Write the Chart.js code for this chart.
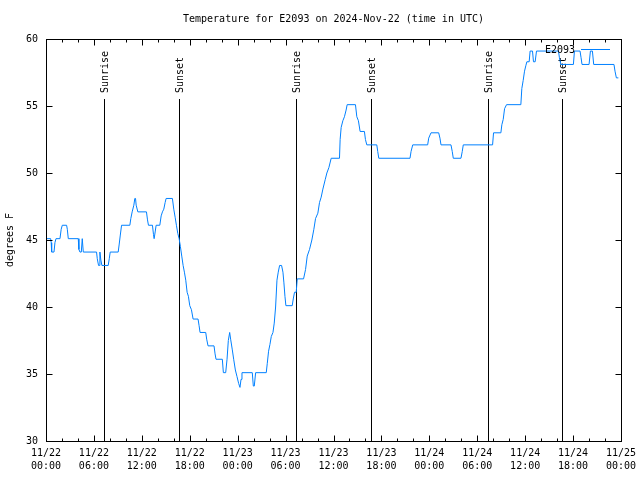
<!DOCTYPE html>
<html>
<head>
<meta charset="utf-8">
<script src="https://cdn.jsdelivr.net/npm/chart.js@4.4.1/dist/chart.umd.min.js"></script>
<style>
  html, body { margin: 0; padding: 0; background: #fff; }
</style>
</head>
<body>
<canvas id="myChart" width="640" height="480"></canvas>
<script>
// hours since 2024-11-22 00:00 UTC
const hours = [
  0.08, 0.58, 0.65, 0.71, 1.0, 1.12, 1.25, 1.75, 1.9, 2.04, 2.58, 2.67, 2.79,
  4.04, 4.12, 4.25, 4.42, 4.54, 4.67, 6.33, 6.42, 6.58, 6.67, 6.75, 6.87, 7.0,
  7.79, 7.92, 8.04, 9.04, 9.17, 9.29, 9.46, 10.5, 10.62, 10.79, 11.0, 11.12,
  11.21, 11.29, 11.5, 12.58, 12.71, 12.83, 13.33, 13.46, 13.54, 13.67, 13.79,
  14.25, 14.42, 14.58, 14.75, 14.92, 15.04, 15.83, 16.0, 16.17, 16.33, 16.5,
  16.67, 16.83, 17.0, 17.17, 17.33, 17.5, 17.67, 17.83, 18.0, 18.21, 18.42,
  19.04, 19.17, 19.29, 20.0, 20.12, 20.29, 21.04, 21.17, 21.29, 22.08, 22.21,
  22.5, 22.67, 22.83, 23.0, 23.12, 23.33, 23.5, 23.71, 23.92, 24.12, 24.29,
  24.42, 24.54, 25.83, 25.96, 26.08, 26.25, 27.58, 27.71, 27.87, 28.04, 28.21,
  28.42, 28.58, 28.75, 28.92, 29.08, 29.25, 29.5, 29.67, 29.79, 29.92, 30.04,
  30.83, 30.96, 31.12, 31.33, 31.46, 32.25, 32.5, 32.71, 33.0, 33.29, 33.54,
  33.75, 34.04, 34.25, 34.46, 34.67, 34.96, 35.17, 35.42, 35.71, 36.75, 36.83,
  36.96, 37.17, 37.37, 37.58, 37.71, 38.75, 38.92, 39.12, 39.33, 39.87, 40.0,
  40.17, 41.42, 41.54, 41.67, 45.58, 45.71, 45.92, 47.79, 47.92, 48.21, 49.17,
  49.33, 49.46, 50.71, 50.87, 51.0, 51.96, 52.12, 52.25, 55.92, 56.04, 56.96,
  57.08, 57.25, 57.42, 57.67, 59.46, 59.58, 59.75, 59.92, 60.08, 60.21, 60.5,
  60.62, 60.92, 61.04, 61.25, 61.42, 64.17, 64.29, 64.46, 66.04, 66.17, 66.87,
  67.0, 67.12, 68.0, 68.17, 68.42, 68.58, 71.12, 71.25, 71.42, 71.67
];
const temps = [
  45.1, 45.1, 44.8, 44.1, 44.1, 44.8, 45.1, 45.1, 45.8, 46.1, 46.1, 45.8, 45.1,
  45.1, 44.3, 44.1, 44.1, 45.1, 44.1, 44.1, 43.6, 43.1, 43.1, 44.1, 43.5, 43.1,
  43.1, 43.6, 44.1, 44.1, 44.7, 45.3, 46.1, 46.1, 46.6, 47.1, 47.6, 48.1,
  48.1, 47.6, 47.1, 47.1, 46.5, 46.1, 46.1, 45.4, 45.1, 45.6, 46.1,
  46.1, 46.8, 47.1, 47.3, 47.8, 48.1, 48.1, 47.3, 46.7, 46.1, 45.5,
  45.1, 44.5, 43.8, 43.1, 42.6, 42.0, 41.1, 40.8, 40.1, 39.8, 39.1,
  39.1, 38.6, 38.1, 38.1, 37.6, 37.1, 37.1, 36.5, 36.1, 36.1, 35.1,
  35.1, 36.1, 37.5, 38.1, 37.6, 36.8, 36.1, 35.3, 34.8, 34.3, 34.0,
  34.6, 35.1, 35.1, 34.1, 34.1, 35.1, 35.1, 35.8, 36.7, 37.2, 37.8,
  38.1, 38.8, 40.0, 42.0, 42.6, 43.1, 43.1, 42.6, 41.8, 40.8, 40.1,
  40.1, 40.6, 41.1, 41.1, 42.1, 42.1, 42.8, 43.8, 44.3, 45.0, 45.8,
  46.6, 47.0, 47.8, 48.2, 48.8, 49.5, 50.0, 50.4, 51.1, 51.1, 52.5,
  53.4, 53.9, 54.2, 54.7, 55.1, 55.1, 54.2, 53.9, 53.1, 53.1, 52.5,
  52.1, 52.1, 51.6, 51.1, 51.1, 51.6, 52.1, 52.1, 52.6, 53.0, 53.0,
  52.6, 52.1, 52.1, 51.6, 51.1, 51.1, 51.6, 52.1, 52.1, 53.0, 53.0,
  53.6, 54.0, 54.8, 55.1, 55.1, 56.3, 56.9, 57.6, 58.0, 58.3, 58.3,
  59.1, 59.1, 58.3, 58.3, 59.1, 59.1, 58.6, 58.1, 58.1, 59.1, 59.1,
  58.6, 58.1, 58.1, 59.1, 59.1, 58.1, 58.1, 57.6, 57.1, 57.1
];

const tickDates = ["11/22", "11/22", "11/22", "11/22", "11/23", "11/23", "11/23",
                   "11/23", "11/24", "11/24", "11/24", "11/24", "11/25"];
const tickTimes = ["00:00", "06:00", "12:00", "18:00", "00:00", "06:00", "12:00",
                   "18:00", "00:00", "06:00", "12:00", "18:00", "00:00"];

const sunHours = [7.25, 16.62, 31.25, 40.75, 55.4, 64.6];
const sunLabels = ["Sunrise", "Sunset", "Sunrise", "Sunset", "Sunrise", "Sunset"];

const FONT = "DejaVu Sans Mono";

// border, inward ticks, sun lines and the gnuplot style key
const gnuplotBits = {
  id: "gnuplotBits",
  beforeDatasetsDraw(chart) {
    const { ctx, chartArea: a, scales } = chart;
    ctx.save();
    ctx.strokeStyle = "#000";
    ctx.lineWidth = 1;
    ctx.fillStyle = "#000";
    ctx.font = "10px '" + FONT + "'";
    sunHours.forEach((h, i) => {
      const px = Math.round(scales.x.getPixelForValue(h)) + 0.5;
      ctx.beginPath();
      ctx.moveTo(px, a.bottom);
      ctx.lineTo(px, 99);
      ctx.stroke();
      ctx.save();
      ctx.translate(px + 1, 93);
      ctx.rotate(-Math.PI / 2);
      ctx.textAlign = "left";
      ctx.textBaseline = "middle";
      ctx.fillText(sunLabels[i], 0, 0);
      ctx.restore();
    });
    ctx.restore();
  },
  afterDatasetsDraw(chart) {
    const { ctx, chartArea: a, scales } = chart;
    ctx.save();
    ctx.strokeStyle = "#000";
    ctx.lineWidth = 1;
    const L = Math.round(a.left) + 0.5, R = Math.round(a.right) + 0.5;
    const T = Math.round(a.top) + 0.5, B = Math.round(a.bottom) + 0.5;
    ctx.strokeRect(L, T, R - L, B - T);
    ctx.beginPath();
    for (let h = 0; h <= 72; h += 2) {
      const px = Math.round(scales.x.getPixelForValue(h)) + 0.5;
      const len = h % 6 === 0 ? 6 : 3;
      ctx.moveTo(px, B); ctx.lineTo(px, B - len);
      ctx.moveTo(px, T); ctx.lineTo(px, T + len);
    }
    for (let v = 30; v <= 60; v += 5) {
      const py = Math.round(scales.y.getPixelForValue(v)) + 0.5;
      ctx.moveTo(L, py); ctx.lineTo(L + 6, py);
      ctx.moveTo(R, py); ctx.lineTo(R - 6, py);
    }
    ctx.stroke();

    // key
    const ds = chart.data.datasets[0];
    ctx.font = "10px '" + FONT + "'";
    ctx.fillStyle = "#000";
    ctx.textAlign = "right";
    ctx.textBaseline = "middle";
    ctx.fillText(ds.label, 575, 50);
    ctx.strokeStyle = ds.borderColor;
    ctx.beginPath();
    ctx.moveTo(581, 49.5);
    ctx.lineTo(610, 49.5);
    ctx.stroke();
    ctx.restore();
  }
};

const ctx = document.getElementById("myChart");
const myChart = new Chart(ctx, {
  type: "line",
  data: {
    datasets: [
      {
        label: "E2093",
        data: hours.map((h, i) => ({ x: h, y: temps[i] })),
        borderColor: "#0080ff",
        borderWidth: 1,
        pointRadius: 0,
        tension: 0,
        fill: false,
      },
    ],
  },
  options: {
    responsive: false,
    animation: false,
    layout: { padding: { left: 0, right: 19, top: 0, bottom: 0 } },
    plugins: {
      legend: { display: false },
      tooltip: { enabled: false },
      title: {
        display: true,
        fullSize: false,
        text: "Temperature for E2093 on 2024-Nov-22 (time in UTC)",
        color: "#000",
        font: { family: FONT, size: 10, weight: "normal", lineHeight: 1.2 },
        padding: { top: 13, bottom: 14 },
      },
    },
    scales: {
      x: {
        type: "linear",
        min: 0,
        max: 72,
        grid: { display: false, drawTicks: false },
        border: { display: false },
        afterFit: (s) => {
          s.height = 39;
          s.paddingLeft = 0;
          s.paddingRight = 0;
        },
        afterBuildTicks: (s) => {
          s.ticks = tickDates.map((d, i) => ({ value: i * 6 }));
        },
        ticks: {
          autoSkip: false,
          maxRotation: 0,
          padding: 6,
          color: "#000",
          font: { family: FONT, size: 10, lineHeight: 1.3 },
          callback: (v) => {
            const i = Math.round(v / 6);
            return [tickDates[i], tickTimes[i]];
          },
        },
      },
      y: {
        min: 30,
        max: 60,
        grid: { display: false, drawTicks: false },
        border: { display: false },
        afterFit: (s) => { s.width = 46; },
        ticks: {
          stepSize: 5,
          padding: 8,
          color: "#000",
          font: { family: FONT, size: 10 },
        },
        title: {
          display: true,
          text: "degrees F",
          color: "#000",
          font: { family: FONT, size: 10 },
          padding: { top: 4, bottom: 0 },
        },
      },
    },
  },
  plugins: [gnuplotBits],
});
</script>
</body>
</html>
